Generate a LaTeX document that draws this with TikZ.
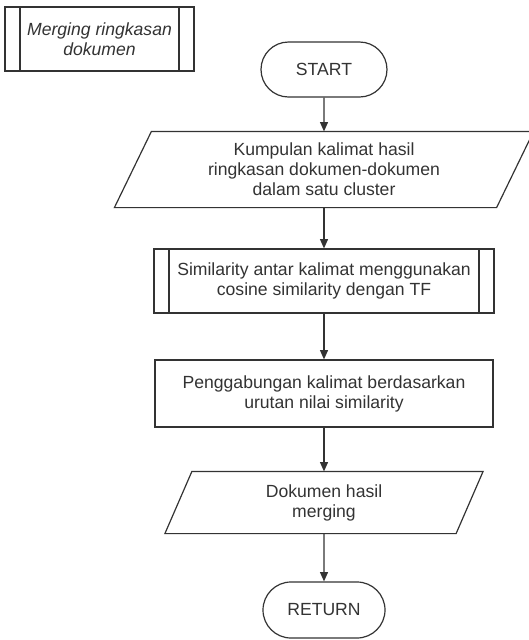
\documentclass[tikz,border=0pt]{standalone}
\usepackage{fontspec}
\setmainfont{Liberation Sans}
\usetikzlibrary{arrows.meta,shapes.misc}

\definecolor{ink}{HTML}{333333}

\begin{document}
\begin{tikzpicture}[
    x=0.75pt, y=-0.75pt,
    >={Triangle[length=7pt,width=6pt]},
    line/.style={draw=ink, line width=0.9pt},
    box/.style={line, fill=white, text=ink, inner sep=0pt, align=center,
      font=\fontsize{13.2}{15}\selectfont},
    term/.style={box, rounded rectangle, minimum width=94.5pt, minimum height=41.25pt},
    proc/.style={box, rectangle},
    subproc/.style={proc, path picture={
        \draw[line] ([xshift=11.25pt]path picture bounding box.north west)
          -- ([xshift=11.25pt]path picture bounding box.south west)
          ([xshift=-11.25pt]path picture bounding box.north east)
          -- ([xshift=-11.25pt]path picture bounding box.south east);}},
    io/.style={box, draw=none, fill=none, rectangle},
  ]
  \useasboundingbox (0,0) rectangle (529,640);

  % Title of the sub-process
  \node[subproc, minimum width=141.75pt, minimum height=48pt,
    font=\fontsize{13.2}{15}\selectfont\itshape] (title) at (99.5,39)
    {Merging ringkasan\\dokumen};

  % Flow
  \node[term] (start) at (324,69.5) {START};
  \node[io, minimum width=285.75pt, minimum height=56.25pt] (input) at (324,169.5)
    {Kumpulan kalimat hasil\\ringkasan dokumen-dokumen\\dalam satu cluster};
  \node[subproc, minimum width=255pt, minimum height=48pt] (sim) at (324,281)
    {Similarity antar kalimat menggunakan\\cosine similarity dengan TF};
  \node[proc, minimum width=253.5pt, minimum height=50.25pt] (merge) at (324,393.5)
    {Penggabungan kalimat berdasarkan\\urutan nilai similarity};
  \node[io, minimum width=217.5pt, minimum height=45.75pt] (output) at (324,502.5)
    {Dokumen hasil\\merging};
  \node[term, minimum width=91.5pt, minimum height=42pt] (return) at (324,610) {RETURN};

  % Parallelograms around the data nodes
  \foreach \n/\s in {input/13.875pt, output/10.125pt}
    \draw[line] ([xshift=\s]\n.north west) -- ([xshift=\s]\n.north east)
      -- ([xshift=-\s]\n.south east) -- ([xshift=-\s]\n.south west) -- cycle;

  % Arrows
  \foreach \a/\b in {start/input, input/sim, sim/merge, merge/output, output/return}
    \draw[line, ->] (\a) -- (\b);
\end{tikzpicture}
\end{document}
